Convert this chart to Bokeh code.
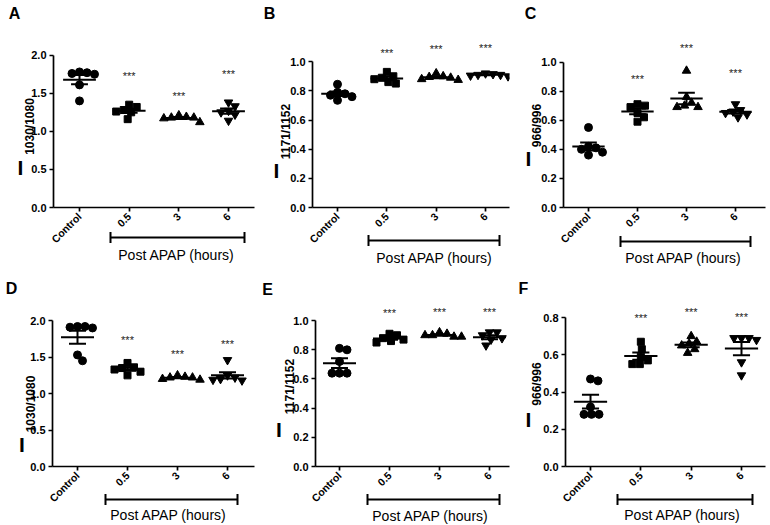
import numpy as np
from math import pi
from bokeh.plotting import figure
from bokeh.layouts import row, column
from bokeh.models import Range1d, FixedTicker, PrintfTickFormatter
from bokeh.core.properties import value
from bokeh.embed import file_html
from bokeh.resources import INLINE

# ---------------- data ----------------
categories = ["Control", "0.5", "3", "6"]
group_label = "Post APAP (hours)"
panel_letters = ["A", "B", "C", "D", "E", "F"]
ylabel_main = "I"
ylabel_subs = ["1030/1080", "1171/1152", "966/996", "1030/1080", "1171/1152", "966/996"]
stars_text = "***"

a_control = [1.77, 1.76, 1.78, 1.75, 1.61, 1.40]
a_p05 = [1.35, 1.32, 1.28, 1.26, 1.25, 1.16]
a_p3 = [1.21, 1.19, 1.18, 1.18, 1.17, 1.12]
a_p6 = [1.38, 1.33, 1.27, 1.25, 1.22, 1.14]
a_stars = [1.76, 1.51, 1.79]
a_ticks = [0.0, 0.5, 1.0, 1.5, 2.0]

b_control = [0.845, 0.79, 0.78, 0.77, 0.76, 0.735]
b_p05 = [0.93, 0.90, 0.89, 0.88, 0.86, 0.85]
b_p3 = [0.92, 0.90, 0.895, 0.89, 0.88, 0.875]
b_p6 = [0.92, 0.915, 0.91, 0.91, 0.905, 0.90]
b_stars = [1.08, 1.105, 1.116]
b_ticks = [0.0, 0.2, 0.4, 0.6, 0.8, 1.0]

c_control = [0.55, 0.42, 0.41, 0.40, 0.38, 0.36]
c_p05 = [0.71, 0.70, 0.69, 0.65, 0.62, 0.59]
c_p3 = [0.94, 0.76, 0.72, 0.70, 0.69, 0.69]
c_p6 = [0.71, 0.67, 0.66, 0.65, 0.64, 0.62]
c_stars = [0.906, 1.115, 0.944]
c_ticks = [0.0, 0.2, 0.4, 0.6, 0.8, 1.0]

d_control = [1.92, 1.91, 1.92, 1.90, 1.53, 1.45]
d_p05 = [1.42, 1.36, 1.35, 1.33, 1.30, 1.25]
d_p3 = [1.25, 1.23, 1.22, 1.22, 1.20, 1.19]
d_p6 = [1.46, 1.25, 1.22, 1.20, 1.19, 1.18]
d_stars = [1.77, 1.58, 1.716]
d_ticks = [0.0, 0.5, 1.0, 1.5, 2.0]

e_control = [0.81, 0.80, 0.72, 0.64, 0.64, 0.64]
e_p05 = [0.91, 0.90, 0.88, 0.87, 0.86, 0.85]
e_p3 = [0.92, 0.91, 0.90, 0.90, 0.89, 0.89]
e_p6 = [0.92, 0.92, 0.90, 0.88, 0.87, 0.83]
e_stars = [1.072, 1.083, 1.083]
e_ticks = [0.0, 0.2, 0.4, 0.6, 0.8, 1.0]

f_control = [0.47, 0.46, 0.32, 0.28, 0.28, 0.28]
f_p05 = [0.67, 0.63, 0.59, 0.57, 0.55, 0.55]
f_p3 = [0.70, 0.67, 0.66, 0.65, 0.63, 0.61]
f_p6 = [0.69, 0.69, 0.69, 0.68, 0.56, 0.49]
f_stars = [0.814, 0.845, 0.818]
f_ticks = [0.0, 0.2, 0.4, 0.6, 0.8]

panel_values = [
    [a_control, a_p05, a_p3, a_p6],
    [b_control, b_p05, b_p3, b_p6],
    [c_control, c_p05, c_p3, c_p6],
    [d_control, d_p05, d_p3, d_p6],
    [e_control, e_p05, e_p3, e_p6],
    [f_control, f_p05, f_p3, f_p6],
]
panel_stars = [a_stars, b_stars, c_stars, d_stars, e_stars, f_stars]
panel_ticks = [a_ticks, b_ticks, c_ticks, d_ticks, e_ticks, f_ticks]

# ---------------- layout / style (not data) ----------------
FONT = "Liberation Sans"
PAGE_W, PAGE_H = 770, 525
markers = ["circle", "square", "triangle", "inverted_triangle"]
marker_sizes = [8, 7, 8.5, 8.5]

specs = [
    dict(w=258, h=262, bl=53, br=4, bt=2, bb=55, xr=(0.4765, 4.523), ytop=2.692),
    dict(w=254, h=262, bl=54, br=3, bt=2, bb=50, xr=(0.493, 4.486), ytop=1.406),
    dict(w=258, h=262, bl=51, br=5, bt=2, bb=51, xr=(0.49, 4.612), ytop=1.409),
    dict(w=258, h=263, bl=52, br=4, bt=2, bb=56, xr=(0.5, 4.54), ytop=2.77),
    dict(w=254, h=263, bl=57, br=3, bt=2, bb=56, xr=(0.52, 4.40), ytop=1.385),
    dict(w=258, h=263, bl=53, br=5, bt=2, bb=59, xr=(0.503, 4.477), ytop=1.085),
]

# page-level decoration positions (page pixels, y downwards)
letter_pos = [(14, 12.5), (269, 12.5), (530, 12.5), (11, 288), (267, 289), (523, 288)]
I_pos = [(20, 167), (276, 170), (528, 158), (21.5, 444), (278.5, 429), (528, 419)]
sub_pos = [(29.5, 126), (285, 131), (536, 125), (30, 403.5), (289, 386), (536, 383.5)]
bracket_pos = [(110, 244, 237), (368, 499, 240), (620, 750, 241),
               (105, 237, 499), (367, 499, 499), (617, 752, 499)]
glabel_pos = [(176, 254.5), (434, 257), (683, 257), (168, 514), (430, 515), (682, 514)]


def swarm_offsets(vals, xppu, yppu, d=7.5):
    vals = np.asarray(vals, dtype=float)
    order = np.argsort(-vals, kind="stable")
    placed = []
    offs = np.zeros(len(vals))
    for i in order:
        yv = vals[i] * yppu
        best = None
        step = 0
        while best is None:
            for sgn in ([1] if step == 0 else [1, -1]):
                ox = sgn * step * 0.5
                if all((ox - px) ** 2 + (yv - py) ** 2 >= d * d for px, py in placed):
                    best = ox
                    break
            step += 1
        placed.append((best, yv))
        offs[i] = best / xppu
    return offs


def make_panel(k):
    s = specs[k]
    vals = panel_values[k]
    ticks = panel_ticks[k]
    p = figure(width=s["w"], height=s["h"], output_backend="svg", toolbar_location=None,
               x_range=Range1d(*s["xr"]), y_range=Range1d(0, s["ytop"]),
               min_border_left=s["bl"], min_border_right=s["br"],
               min_border_top=s["bt"], min_border_bottom=s["bb"])
    p.outline_line_color = None
    p.xgrid.visible = False
    p.ygrid.visible = False
    p.background_fill_color = "white"
    p.border_fill_color = "white"

    frame_w = s["w"] - s["bl"] - s["br"]
    frame_h = s["h"] - s["bt"] - s["bb"]
    xppu = frame_w / (s["xr"][1] - s["xr"][0])
    yppu = frame_h / s["ytop"]

    for ax in (p.xaxis[0], p.yaxis[0]):
        ax.axis_line_width = 1.7
        ax.axis_line_color = "black"
        ax.major_tick_line_width = 1.7
        ax.major_tick_line_color = "black"
        ax.major_tick_out = 4
        ax.major_tick_in = 0
        ax.minor_tick_line_color = None
        ax.major_label_text_font = FONT
        ax.major_label_text_font_style = "bold"
        ax.major_label_text_color = "black"
    p.yaxis[0].ticker = FixedTicker(ticks=ticks)
    p.yaxis[0].formatter = PrintfTickFormatter(format="%.1f")
    p.yaxis[0].bounds = (0, max(ticks))
    p.yaxis[0].major_label_text_font_size = "11px"
    p.yaxis[0].major_label_standoff = 3
    p.xaxis[0].ticker = FixedTicker(ticks=[1, 2, 3, 4])
    p.xaxis[0].major_label_overrides = {i + 1: c for i, c in enumerate(categories)}
    p.xaxis[0].major_label_orientation = pi / 4
    p.xaxis[0].major_label_text_font_size = "10.5px"
    p.xaxis[0].major_label_standoff = 3

    for g, gv in enumerate(vals):
        xc = g + 1
        offs = swarm_offsets(gv, xppu, yppu)
        p.scatter(x=xc + offs, y=gv, marker=markers[g], size=marker_sizes[g],
                  fill_color="black", line_color="black")
        arr = np.asarray(gv, dtype=float)
        m = arr.mean()
        sem = arr.std(ddof=1) / np.sqrt(len(arr))
        p.segment(x0=[xc - 0.33, xc - 0.17, xc - 0.17, xc], y0=[m, m + sem, m - sem, m - sem],
                  x1=[xc + 0.33, xc + 0.17, xc + 0.17, xc], y1=[m, m + sem, m - sem, m + sem],
                  line_color="black", line_width=2)

    p.text(x=[2, 3, 4], y=panel_stars[k], text=[stars_text] * 3, text_align="center",
           text_baseline="middle", text_font=value(FONT), text_font_size=value("11px"),
           text_color="#222222", y_offset=3)
    return p


panels = [make_panel(k) for k in range(6)]

# transparent overlay for the texts that sit outside the plot frames
ov = figure(width=PAGE_W, height=PAGE_H, x_range=Range1d(0, PAGE_W), y_range=Range1d(0, PAGE_H),
            x_axis_type=None, y_axis_type=None, toolbar_location=None, output_backend="svg",
            min_border=0, styles={"position": "absolute", "left": "0px", "top": "0px", "z-index": "10"})
ov.outline_line_color = None
ov.background_fill_color = None
ov.border_fill_color = None
ov.xgrid.visible = False
ov.ygrid.visible = False


def fy(y):
    return PAGE_H - y


ov.text(x=[q[0] for q in letter_pos], y=[fy(q[1]) for q in letter_pos], text=panel_letters,
        text_font=value(FONT), text_font_style="bold", text_font_size=value("16px"),
        text_align="center", text_baseline="middle", text_color="black")
ov.text(x=[q[0] for q in I_pos], y=[fy(q[1]) for q in I_pos], text=[ylabel_main] * 6,
        text_font=value(FONT), text_font_style="bold", text_font_size=value("21px"),
        text_align="center", text_baseline="alphabetic", text_color="black")
ov.text(x=[q[0] for q in sub_pos], y=[fy(q[1]) for q in sub_pos], text=ylabel_subs,
        text_font=value(FONT), text_font_style="bold", text_font_size=value("12px"),
        text_align="center", text_baseline="middle", angle=pi / 2, text_color="black")
bx0 = [b[0] for b in bracket_pos]
bx1 = [b[1] for b in bracket_pos]
by = [fy(b[2]) for b in bracket_pos]
ov.segment(x0=bx0, y0=by, x1=bx1, y1=by, line_color="black", line_width=2)
ov.segment(x0=bx0 + bx1, y0=[v - 5.5 for v in by] * 2, x1=bx0 + bx1, y1=[v + 5.5 for v in by] * 2,
           line_color="black", line_width=2)
ov.text(x=[q[0] for q in glabel_pos], y=[fy(q[1]) for q in glabel_pos], text=[group_label] * 6,
        text_font=value(FONT), text_font_size=value("14px"),
        text_align="center", text_baseline="middle", text_color="black")

layout = column(row(*panels[:3]), row(*panels[3:]), ov)
open("out.html", "w").write(file_html(layout, INLINE))
